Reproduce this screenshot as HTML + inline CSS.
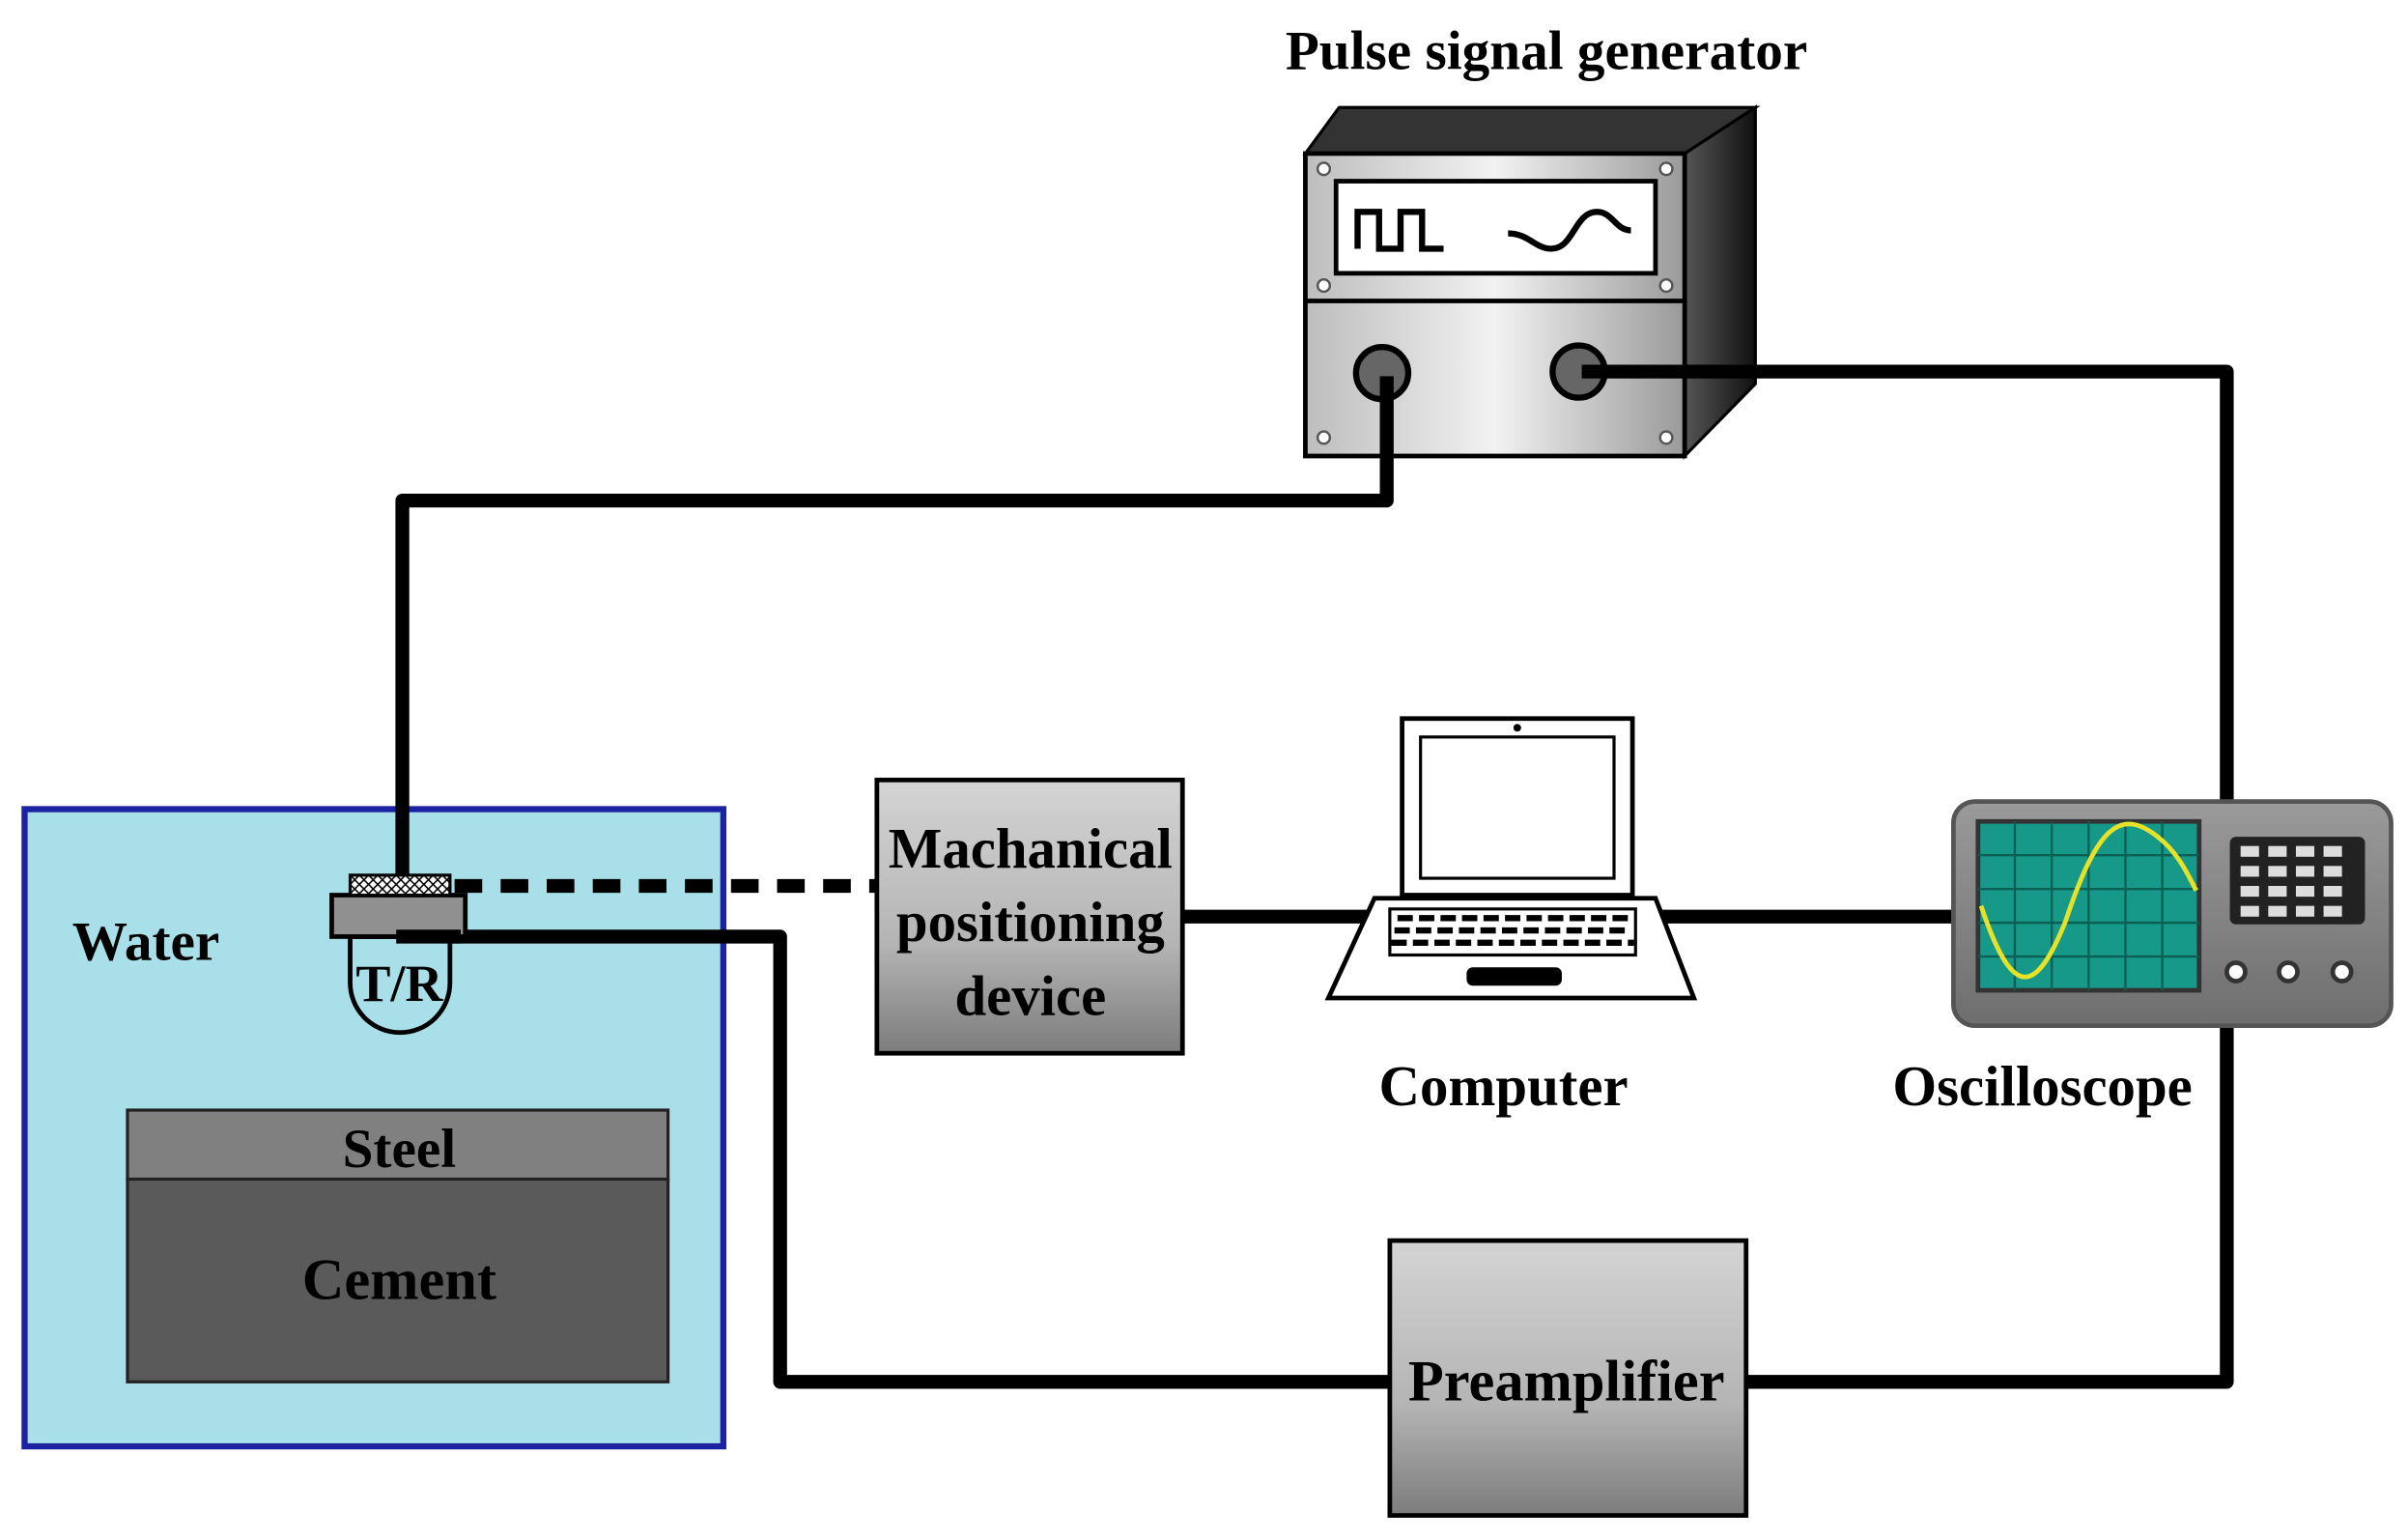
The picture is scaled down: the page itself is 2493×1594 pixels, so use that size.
<!DOCTYPE html>
<html><head><meta charset="utf-8"><style>
html,body{margin:0;padding:0;background:#fff;}
svg{display:block;}
text{font-family:"Liberation Serif",serif;font-weight:bold;fill:#000;}
</style></head><body>
<svg width="2493" height="1594" viewBox="0 0 1568 1003" preserveAspectRatio="none" xmlns="http://www.w3.org/2000/svg">
<defs>
<linearGradient id="g1" x1="0" y1="0" x2="0" y2="1"><stop offset="0" stop-color="#d4d4d4"/><stop offset="0.6" stop-color="#b4b4b4"/><stop offset="1" stop-color="#7c7c7c"/></linearGradient>
<linearGradient id="gf" x1="0" y1="0" x2="1" y2="0"><stop offset="0" stop-color="#bdbdbd"/><stop offset="0.5" stop-color="#f2f2f2"/><stop offset="1" stop-color="#9a9a9a"/></linearGradient>
<linearGradient id="gs" x1="0" y1="0" x2="1" y2="0"><stop offset="0" stop-color="#555"/><stop offset="1" stop-color="#111"/></linearGradient>
<linearGradient id="go" x1="0" y1="0" x2="0" y2="1"><stop offset="0" stop-color="#9a9a9a"/><stop offset="1" stop-color="#6e6e6e"/></linearGradient>
<pattern id="hatch" width="6" height="6" patternUnits="userSpaceOnUse"><rect width="6" height="6" fill="#fff"/><path d="M0 6L6 0M0 0L6 6" stroke="#000" stroke-width="1"/></pattern>
</defs>

<!-- tank -->
<rect x="16" y="527" width="455" height="415" fill="#a8dfe9" stroke="#1b23a3" stroke-width="4"/>
<rect x="83" y="723" width="352" height="45" fill="#808080" stroke="#222" stroke-width="2"/>
<rect x="83" y="768" width="352" height="132" fill="#5a5a5a" stroke="#222" stroke-width="2"/>
<text x="260" y="760" font-size="36" text-anchor="middle">Steel</text>
<text x="260" y="846" font-size="38" text-anchor="middle">Cement</text>
<text x="95" y="625" font-size="36" text-anchor="middle">Water</text>

<!-- generator -->
<polygon points="850,100 872,70 1143,70 1097,100" fill="#333" stroke="#000" stroke-width="2"/>
<polygon points="1097,100 1143,70 1143,250 1097,297" fill="url(#gs)" stroke="#000" stroke-width="2"/>
<rect x="850" y="100" width="247" height="197" fill="url(#gf)" stroke="#000" stroke-width="3"/>
<line x1="850" y1="196" x2="1097" y2="196" stroke="#000" stroke-width="3"/>
<rect x="870" y="118" width="208" height="60" fill="#fff" stroke="#000" stroke-width="3"/>
<path d="M884 162 V138 H898 V162 H912 V138 H926 V162 H940" fill="none" stroke="#000" stroke-width="4"/>
<path d="M982 152 C995 152 1000 162 1010 162 C1025 162 1025 138 1040 138 C1050 138 1052 150 1062 150" fill="none" stroke="#000" stroke-width="4"/>
<g fill="#fff" stroke="#555" stroke-width="1.5"><circle cx="862" cy="110" r="4"/><circle cx="1085" cy="110" r="4"/><circle cx="862" cy="186" r="4"/><circle cx="1085" cy="186" r="4"/><circle cx="862" cy="285" r="4"/><circle cx="1085" cy="285" r="4"/></g>
<circle cx="900" cy="243" r="17" fill="#666" stroke="#000" stroke-width="4"/>
<circle cx="1028" cy="242" r="17" fill="#666" stroke="#000" stroke-width="4"/>
<text x="1007" y="45" font-size="36" text-anchor="middle">Pulse signal generator</text>

<!-- wires -->
<g fill="none" stroke="#000" stroke-width="9" stroke-linejoin="round">
<polyline points="262,580 262,326 903,326 903,245"/>
<polyline points="1030,242 1450,242 1450,522"/>
<polyline points="1450,668 1450,900 1137,900"/>
<polyline points="905,900 508,900 508,610 258,610"/>
<line x1="770" y1="597" x2="900" y2="597"/>
<line x1="1080" y1="597" x2="1272" y2="597"/>
<line x1="296" y1="577" x2="572" y2="577" stroke-dasharray="18 12"/>
</g>

<!-- transducer -->
<path d="M228 610 L293 610 L293 640 A32 32 0 0 1 228 640 Z" fill="#a8dfe9" stroke="#000" stroke-width="3"/>
<rect x="216" y="583" width="87" height="27" fill="#909090" stroke="#000" stroke-width="3"/>
<rect x="228" y="570" width="65" height="13" fill="url(#hatch)" stroke="#000" stroke-width="2"/>
<line x1="258" y1="610" x2="300" y2="610" stroke="#000" stroke-width="9"/>
<text x="260" y="652" font-size="34" text-anchor="middle">T/R</text>

<!-- machanical -->
<rect x="571" y="508" width="199" height="178" fill="url(#g1)" stroke="#000" stroke-width="3"/>
<text x="671" y="565" font-size="37" text-anchor="middle">Machanical</text>
<text x="671" y="613" font-size="37" text-anchor="middle">positioning</text>
<text x="671" y="661" font-size="37" text-anchor="middle">device</text>

<!-- laptop -->
<rect x="913" y="468" width="150" height="115" fill="#fff" stroke="#000" stroke-width="3"/>
<rect x="925" y="480" width="126" height="92" fill="#fff" stroke="#000" stroke-width="2"/>
<circle cx="988" cy="474" r="2.5" fill="#000"/>
<polygon points="895,585 1078,585 1103,650 865,650" fill="#fff" stroke="#000" stroke-width="3"/>
<g fill="#000">
<rect x="905" y="592" width="160" height="30" fill="none" stroke="#000" stroke-width="2"/>
<path d="M910 598h150M908 606h154M906 614h158" stroke="#000" stroke-width="4" stroke-dasharray="10 4"/>
<rect x="955" y="630" width="62" height="12" rx="4"/>
</g>
<text x="979" y="720" font-size="37" text-anchor="middle">Computer</text>

<!-- oscilloscope -->
<rect x="1272" y="522" width="285" height="146" rx="14" fill="url(#go)" stroke="#555" stroke-width="3"/>
<rect x="1288" y="535" width="144" height="110" fill="#17998a" stroke="#333" stroke-width="3"/>
<g stroke="#0b5f55" stroke-width="1.5">
<path d="M1288 557h144M1288 579h144M1288 601h144M1288 623h144M1312 535v110M1336 535v110M1360 535v110M1384 535v110M1408 535v110"/>
</g>
<path d="M1290 590 C1310 650 1325 650 1345 600 C1365 540 1380 525 1405 545 C1418 555 1425 570 1430 580" fill="none" stroke="#e6e22a" stroke-width="3"/>
<rect x="1452" y="545" width="88" height="57" rx="4" fill="#222"/>
<g fill="#ddd">
<rect x="1459" y="551" width="12" height="7"/><rect x="1477" y="551" width="12" height="7"/><rect x="1495" y="551" width="12" height="7"/><rect x="1513" y="551" width="12" height="7"/>
<rect x="1459" y="564" width="12" height="7"/><rect x="1477" y="564" width="12" height="7"/><rect x="1495" y="564" width="12" height="7"/><rect x="1513" y="564" width="12" height="7"/>
<rect x="1459" y="577" width="12" height="7"/><rect x="1477" y="577" width="12" height="7"/><rect x="1495" y="577" width="12" height="7"/><rect x="1513" y="577" width="12" height="7"/>
<rect x="1459" y="590" width="12" height="7"/><rect x="1477" y="590" width="12" height="7"/><rect x="1495" y="590" width="12" height="7"/><rect x="1513" y="590" width="12" height="7"/>
</g>
<g fill="#fff" stroke="#333" stroke-width="3"><circle cx="1456" cy="633" r="6"/><circle cx="1490" cy="633" r="6"/><circle cx="1525" cy="633" r="6"/></g>
<text x="1330" y="720" font-size="37" text-anchor="middle">Oscilloscope</text>

<!-- preamplifier -->
<rect x="905" y="808" width="232" height="179" fill="url(#g1)" stroke="#000" stroke-width="3"/>
<text x="1020" y="912" font-size="38" text-anchor="middle">Preamplifier</text>
</svg>
</body></html>
